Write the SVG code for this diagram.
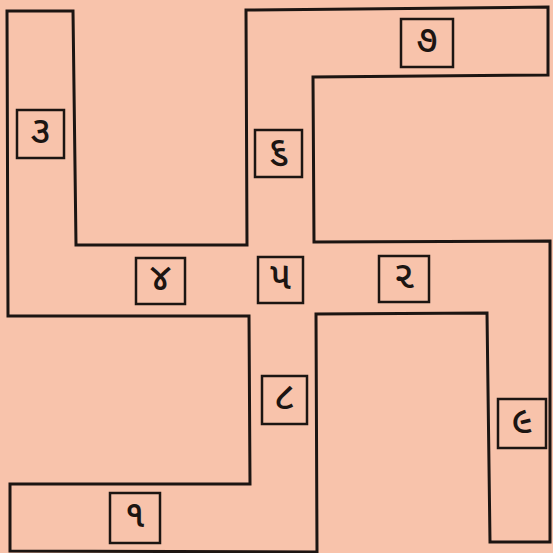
<svg xmlns="http://www.w3.org/2000/svg" width="553" height="553" viewBox="0 0 553 553">
<style>
.bg{fill:#f8c3ab}
.outline{fill:none;stroke:#1c1512;stroke-width:3;stroke-linejoin:miter}
.box{fill:none;stroke:#1c1512;stroke-width:2.5}
.num{font-family:"Noto Sans Gujarati","Noto Sans","DejaVu Sans",sans-serif;font-size:38px;font-weight:500;fill:#1c1512;text-anchor:middle;dominant-baseline:central}
</style>
<rect class="bg" x="0" y="0" width="553" height="553"/>
<g id="connectors">
<polygon class="outline" points="7,11 73,11 76,245 247,245 246,10 548,7 548,75 313,77 314,242 550,241 550,542 490,542 487,313 316,314 317,552 10,551 10,484 250,484 249,316 8,316"/>
</g>
<g id="n3"><rect class="box" x="17" y="110" width="47" height="48"/><text class="num" x="40.5" y="134">૩</text></g>
<g id="n7"><rect class="box" x="401" y="19" width="52" height="48"/><text class="num" x="427" y="43">૭</text></g>
<g id="n6"><rect class="box" x="255" y="130" width="47" height="47"/><text class="num" x="278.5" y="153.5">૬</text></g>
<g id="n4"><rect class="box" x="136" y="258" width="49" height="46"/><text class="num" x="160.5" y="281">૪</text></g>
<g id="n5"><rect class="box" x="258" y="257" width="45" height="46"/><text class="num" x="280.5" y="280">૫</text></g>
<g id="n2"><rect class="box" x="379" y="256" width="50" height="46"/><text class="num" x="404" y="279">૨</text></g>
<g id="n8"><rect class="box" x="262" y="376" width="45" height="48"/><text class="num" x="284.5" y="400">૮</text></g>
<g id="n9"><rect class="box" x="498" y="399" width="48" height="49"/><text class="num" x="522" y="423.5">૯</text></g>
<g id="n1"><rect class="box" x="110" y="493" width="50" height="50"/><text class="num" x="135" y="518">૧</text></g>
</svg>
